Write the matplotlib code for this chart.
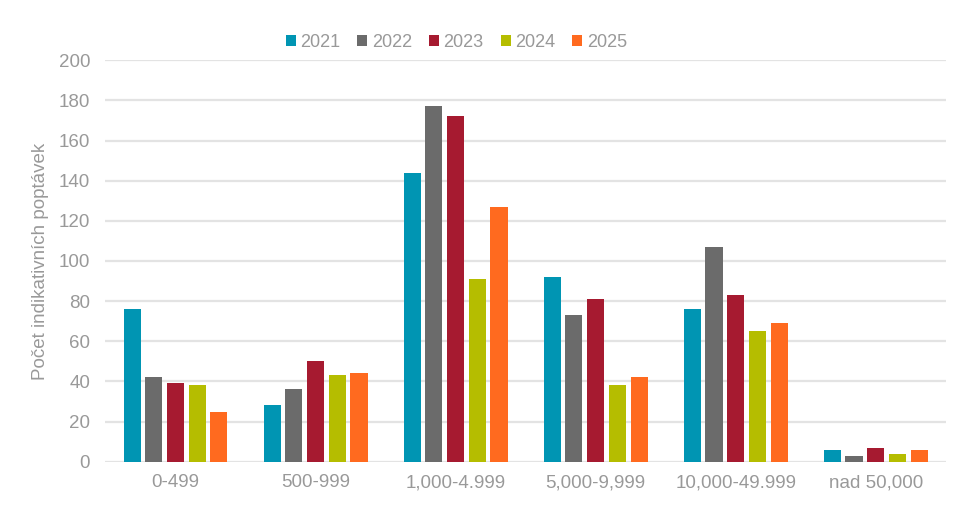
import matplotlib
matplotlib.use("Agg")
import matplotlib.pyplot as plt
from matplotlib.patches import Patch
import numpy as np

plt.rcParams['font.family'] = ['Liberation Sans', 'DejaVu Sans']

categories = ["0-499", "500-999", "1,000-4.999", "5,000-9,999", "10,000-49.999", "nad 50,000"]
years = ["2021", "2022", "2023", "2024", "2025"]
values = {
    "2021": [76, 28, 144, 92, 76, 6],
    "2022": [42, 36, 177, 73, 107, 3],
    "2023": [39, 50, 172, 81, 83, 7],
    "2024": [38, 43, 91, 38, 65, 4],
    "2025": [25, 44, 127, 42, 69, 6],
}
colors = ["#0095B3", "#6B6B6B", "#A61A30", "#B5BD00", "#FF6A1F"]
yticks = [0, 20, 40, 60, 80, 100, 120, 140, 160, 180, 200]

fig = plt.figure(figsize=(9.75, 5.18), dpi=100)
ax = fig.add_axes([0.1082, 0.1087, 0.8618, 0.775])

x = np.arange(len(categories))
step = 0.155
width = 0.122
for i, (yr, c) in enumerate(zip(years, colors)):
    ax.bar(x + (i - 2) * step, values[yr], width=width, color=c, zorder=3)

ax.set_xlim(-0.5, len(categories) - 0.5)
ax.set_ylim(0, 200)
ax.set_yticks(yticks)
ax.set_xticks(x)
ax.set_xticklabels(categories)
ax.yaxis.grid(True, color="#E3E3E3", linewidth=1.6, zorder=0)
ax.set_axisbelow(True)
for s in ax.spines.values():
    s.set_visible(False)
ax.tick_params(axis='both', length=0, labelsize=13.5, labelcolor="#999999")
ax.tick_params(axis='y', pad=11)
ax.tick_params(axis='x', pad=9)
ax.set_ylabel("Počet indikativních poptávek", fontsize=13.5, color="#999999", labelpad=7)

handles = [Patch(facecolor=c, label=yr) for yr, c in zip(years, colors)]
leg = fig.legend(handles=handles, loc="center", bbox_to_anchor=(0.468, 0.918), ncol=5,
                 frameon=False, fontsize=13, handlelength=0.55, handleheight=0.55,
                 handletextpad=0.25, columnspacing=0.95)
for t in leg.get_texts():
    t.set_color("#999999")

fig.savefig("out.png", dpi=100)
